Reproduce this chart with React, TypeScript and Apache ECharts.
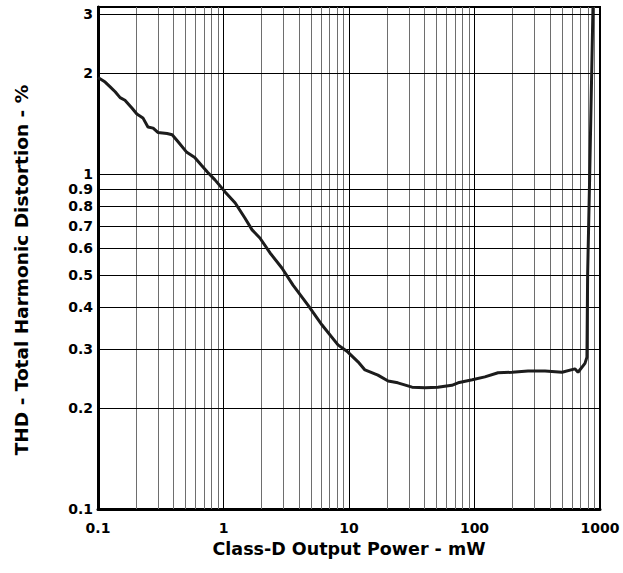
import React, { useEffect, useRef } from "react";
import * as echarts from "echarts";

// Output power (mW) and THD (%)
const powerMW = [
  0.1, 0.114, 0.125, 0.137, 0.15, 0.164, 0.187, 0.204, 0.228, 0.25, 0.275, 0.3,
  0.355, 0.39, 0.433, 0.51, 0.59, 0.67, 0.75, 0.855, 1.03, 1.24, 1.48, 1.69,
  1.95, 2.35, 2.92, 3.58, 4.71, 6.1, 8.17, 9.8, 11.8, 13.4, 17.0, 20.5, 24.5,
  31.8, 40.4, 51, 66, 74, 96, 121, 154, 199, 267, 365, 498, 631, 668, 759, 787,
  797, 828, 879,
];
const thdPct = [
  1.94, 1.88, 1.82, 1.76, 1.69, 1.66, 1.57, 1.51, 1.47, 1.38, 1.37, 1.33, 1.32,
  1.31, 1.25, 1.16, 1.12, 1.06, 1.01, 0.96, 0.884, 0.819, 0.739, 0.681, 0.644,
  0.581, 0.524, 0.466, 0.406, 0.354, 0.309, 0.294, 0.275, 0.26, 0.251, 0.241,
  0.238, 0.231, 0.23, 0.231, 0.234, 0.238, 0.243, 0.248, 0.255, 0.256, 0.258,
  0.258, 0.256, 0.262, 0.256, 0.272, 0.284, 0.5, 1, 3.15,
];

const xMinorGrid = [
  0.2, 0.3, 0.4, 0.5, 0.6, 0.7, 0.8, 0.9, 2, 3, 4, 5, 6, 7, 8, 9, 20, 30, 40,
  50, 60, 70, 80, 90, 200, 300, 400, 500, 600, 700, 800, 900,
];
const xMajorGrid = [1, 10, 100];
const yGridValues = [0.1, 0.2, 0.3, 0.4, 0.5, 0.6, 0.7, 0.8, 0.9, 1, 2, 3];
const yTickLabels = ["0.1", "0.2", "0.3", "0.4", "0.5", "0.6", "0.7", "0.8", "0.9", "1", "2", "3"];

const xTitle = "Class-D Output Power - mW";
const yTitle = "THD - Total Harmonic Distortion - %";

const FONT = "DejaVu Sans";

export default function App() {
  const ref = useRef<HTMLDivElement>(null);

  useEffect(() => {
    if (!ref.current) return;
    const chart = echarts.init(ref.current, null, { renderer: "svg" });

    const points = powerMW.map((p, i) => [p, thdPct[i]]);

    const lineLabel = { show: false };
    const option: any = {
      animation: false,
      backgroundColor: "#ffffff",
      grid: {
        left: 98,
        right: 23,
        top: 7,
        bottom: 64,
        show: true,
        borderColor: "#000",
        borderWidth: 2,
        outerBoundsMode: "none",
      },
      xAxis: {
        type: "log",
        logBase: 10,
        min: 0.1,
        max: 1000,
        axisLine: { show: true, lineStyle: { color: "#000", width: 3 } },
        axisTick: { show: false },
        splitLine: { show: false },
        axisLabel: {
          color: "#000",
          fontFamily: FONT,
          fontWeight: "bold",
          fontSize: 14,
          lineHeight: 13,
          margin: 12,
          formatter: (v: number) => String(Number(v.toPrecision(3))),
        },
      },
      yAxis: {
        type: "log",
        logBase: 10,
        min: 0.1,
        max: 3.15,
        axisLine: { show: true, lineStyle: { color: "#000", width: 3 } },
        axisTick: { show: false },
        splitLine: { show: false },
        axisLabel: { show: false },
      },
      series: [
        {
          type: "line",
          data: [],
          silent: true,
          z: 1,
          markLine: {
            silent: true,
            symbol: ["none", "none"],
            animation: false,
            label: lineLabel,
            lineStyle: { color: "#6e6e6e", width: 1, type: "solid" },
            data: xMinorGrid.map((v) => ({ xAxis: v })),
          },
        },
        {
          type: "line",
          data: [],
          silent: true,
          z: 1,
          markLine: {
            silent: true,
            symbol: ["none", "none"],
            animation: false,
            label: lineLabel,
            lineStyle: { color: "#000", width: 1, type: "solid" },
            data: xMajorGrid.map((v) => ({ xAxis: v })),
          },
        },
        {
          type: "line",
          data: [],
          silent: true,
          z: 1,
          markLine: {
            silent: true,
            symbol: ["none", "none"],
            animation: false,
            lineStyle: { color: "#000", width: 1, type: "solid" },
            label: {
              show: true,
              position: "start",
              distance: 5,
              color: "#000",
              fontFamily: FONT,
              fontWeight: "bold",
              fontSize: 14,
              lineHeight: 12,
              formatter: (p: any) => yTickLabels[p.dataIndex],
            },
            data: yGridValues.map((v) => ({ yAxis: v })),
          },
        },
        {
          type: "line",
          data: points,
          z: 5,
          showSymbol: false,
          symbol: "none",
          smooth: false,
          clip: true,
          lineStyle: { color: "#1c1c1c", width: 3 },
        },
      ],
      graphic: [
        {
          type: "text",
          x: 349,
          y: 549,
          style: {
            text: xTitle,
            fill: "#000",
            font: `bold 17.5px "${FONT}"`,
            align: "center",
            verticalAlign: "middle",
          },
        },
        {
          type: "text",
          x: 21,
          y: 270,
          rotation: Math.PI / 2,
          style: {
            text: yTitle,
            fill: "#000",
            font: `bold 18.5px "${FONT}"`,
            align: "center",
            verticalAlign: "middle",
          },
        },
      ],
    };

    chart.setOption(option);
    return () => chart.dispose();
  }, []);

  return (
    <div
      ref={ref}
      style={{ position: "fixed", left: 0, top: 0, width: 623, height: 573, background: "#fff" }}
    />
  );
}
